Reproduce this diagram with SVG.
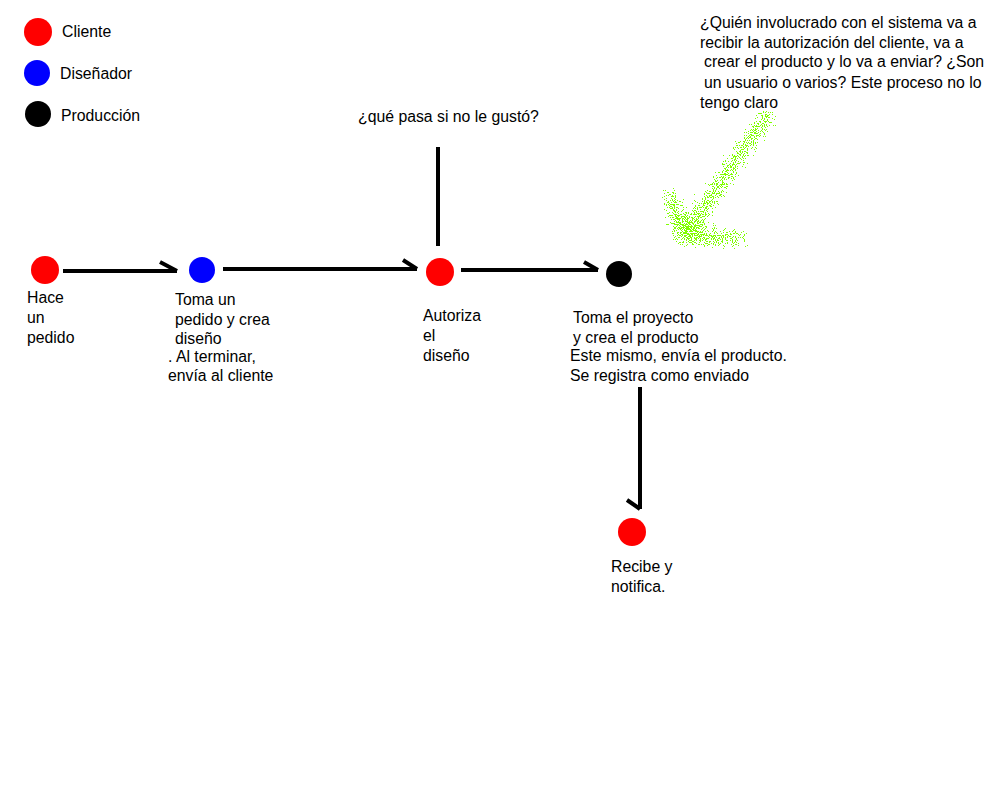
<svg xmlns="http://www.w3.org/2000/svg" width="1000" height="800" viewBox="0 0 1000 800">
<style>
text{font-family:"Liberation Sans",Arial,sans-serif;font-size:15.8px;fill:#000}
.ln{stroke:#000;stroke-width:4;fill:none;stroke-linecap:butt}
.red{fill:#ff0000}.blue{fill:#0000ff}.blk{fill:#000}
</style>
<defs>
<filter id="spray" x="-30%" y="-30%" width="160%" height="160%" color-interpolation-filters="sRGB">
<feGaussianBlur in="SourceAlpha" stdDeviation="7" result="b"/>
<feTurbulence type="fractalNoise" baseFrequency="0.9" numOctaves="1" seed="7" result="n"/>
<feColorMatrix in="n" type="matrix" values="0 0 0 0 0  0 0 0 0 0  0 0 0 0 0  1 0 0 0 0" result="na"/>
<feComposite in="b" in2="na" operator="arithmetic" k1="0" k2="0.8" k3="2" k4="-1.25" result="c"/>
<feComponentTransfer in="c" result="t"><feFuncA type="discrete" tableValues="0 1"/></feComponentTransfer>
<feFlood flood-color="#80ff00"/>
<feComposite in2="t" operator="in"/>
</filter>
</defs>
<rect width="1000" height="800" fill="#fff"/>
<g id="legend">
<circle class="red" cx="38" cy="32" r="14"/><text x="62" y="37">Cliente</text>
<circle class="blue" cx="37" cy="73" r="13"/><text x="60" y="79">Diseñador</text>
<circle class="blk" cx="38" cy="114" r="13"/><text x="61" y="121">Producción</text>
</g>
<g id="connectors">
<path class="ln" d="M63 271H177M160 262L177 271"/>
<path class="ln" d="M223 269H417M403 260L417 269"/>
<path class="ln" d="M461 270H598M584 262L598 270"/>
<path class="ln" d="M438 147V246"/>
<path class="ln" d="M640 387V509M627 500L640 509"/>
</g>
<g id="n1"><circle class="red" cx="45" cy="270" r="14"/>
<text x="27" y="303">Hace</text><text x="27" y="323">un</text><text x="27" y="343">pedido</text></g>
<g id="n2"><circle class="blue" cx="202" cy="270" r="13"/>
<text x="175" y="305">Toma un</text><text x="175" y="325">pedido y crea</text><text x="175" y="344">diseño</text>
<text x="168" y="362">. Al terminar,</text><text x="168" y="381">envía al cliente</text></g>
<g id="n3"><circle class="red" cx="440" cy="272" r="14"/>
<text x="423" y="321">Autoriza</text><text x="423" y="341">el</text><text x="423" y="361">diseño</text></g>
<g id="q1"><text x="358" y="122">¿qué pasa si no le gustó?</text></g>
<g id="n4"><circle class="blk" cx="619" cy="274" r="13"/>
<text x="573" y="323">Toma el proyecto</text><text x="573" y="343">y crea el producto</text>
<text x="570" y="361">Este mismo, envía el producto.</text><text x="570" y="381">Se registra como enviado</text></g>
<g id="n5"><circle class="red" cx="632" cy="532" r="14"/>
<text x="611" y="572">Recibe y</text><text x="611" y="592">notifica.</text></g>
<g id="q2">
<text x="700" y="28">¿Quién involucrado con el sistema va a</text>
<text x="700" y="48">recibir la autorización del cliente, va a</text>
<text x="704" y="67">crear el producto y lo va a enviar? ¿Son</text>
<text x="704" y="88">un usuario o varios? Este proceso no lo</text>
<text x="700" y="108">tengo claro</text>
</g>
<g id="spray-arrow" filter="url(#spray)">
<path d="M768 115L685 235M670 195L682 238L740 238" stroke="#000" stroke-width="20" fill="none" stroke-linecap="round" stroke-linejoin="round"/>
</g>
</svg>
